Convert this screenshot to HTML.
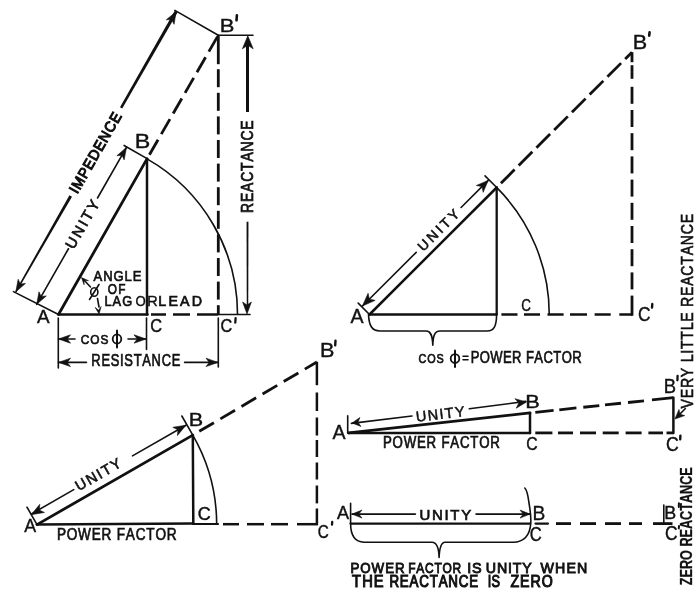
<!DOCTYPE html>
<html><head><meta charset="utf-8"><style>
html,body{margin:0;padding:0;background:#fff;}
svg{display:block;will-change:transform;filter:blur(0.35px);}
text{font-family:"Liberation Sans",sans-serif;fill:#111;stroke:#111;font-kerning:none;}
</style></head><body>
<svg width="700" height="597" viewBox="0 0 700 597" stroke="#111" fill="#111">
<line x1="58.5" y1="314.5" x2="147" y2="158.87" stroke-width="2.8" stroke-linecap="round"/>
<line x1="147" y1="158.87" x2="147" y2="314.5" stroke-width="2.5" stroke-linecap="round"/>
<line x1="58.5" y1="314.5" x2="147.5" y2="314.5" stroke-width="2.5" stroke-linecap="round"/>
<line x1="151" y1="314.5" x2="166" y2="314.5" stroke-width="2.5" stroke-linecap="butt"/>
<line x1="173" y1="314.5" x2="190" y2="314.5" stroke-width="2.5" stroke-linecap="butt"/>
<line x1="197" y1="314.5" x2="218.3" y2="314.5" stroke-width="2.5" stroke-linecap="butt"/>
<line x1="218.3" y1="314.5" x2="250" y2="314.5" stroke-width="1.6" stroke-linecap="round"/>
<line x1="149.4" y1="154.71" x2="158.04" y2="139.73" stroke-width="2.8" stroke-linecap="butt"/>
<line x1="161.28" y1="134.09" x2="169.93" y2="119.11" stroke-width="2.8" stroke-linecap="butt"/>
<line x1="173.17" y1="113.48" x2="181.81" y2="98.49" stroke-width="2.8" stroke-linecap="butt"/>
<line x1="185.06" y1="92.86" x2="193.7" y2="77.87" stroke-width="2.8" stroke-linecap="butt"/>
<line x1="196.95" y1="72.24" x2="205.59" y2="57.25" stroke-width="2.8" stroke-linecap="butt"/>
<line x1="208.83" y1="51.62" x2="217.47" y2="36.63" stroke-width="2.8" stroke-linecap="butt"/>
<line x1="218.3" y1="35.2" x2="218.3" y2="64.2" stroke-width="2.8" stroke-linecap="butt"/>
<line x1="218.3" y1="69.2" x2="218.3" y2="87.2" stroke-width="2.8" stroke-linecap="butt"/>
<line x1="218.3" y1="92.8" x2="218.3" y2="110.8" stroke-width="2.8" stroke-linecap="butt"/>
<line x1="218.3" y1="116.4" x2="218.3" y2="134.4" stroke-width="2.8" stroke-linecap="butt"/>
<line x1="218.3" y1="140" x2="218.3" y2="158" stroke-width="2.8" stroke-linecap="butt"/>
<line x1="218.3" y1="163.6" x2="218.3" y2="181.6" stroke-width="2.8" stroke-linecap="butt"/>
<line x1="218.3" y1="187.2" x2="218.3" y2="205.2" stroke-width="2.8" stroke-linecap="butt"/>
<line x1="218.3" y1="210.8" x2="218.3" y2="228.8" stroke-width="2.8" stroke-linecap="butt"/>
<line x1="218.3" y1="234.4" x2="218.3" y2="252.4" stroke-width="2.8" stroke-linecap="butt"/>
<line x1="218.3" y1="258" x2="218.3" y2="276" stroke-width="2.8" stroke-linecap="butt"/>
<line x1="218.3" y1="281.6" x2="218.3" y2="299.6" stroke-width="2.8" stroke-linecap="butt"/>
<line x1="218.3" y1="305.2" x2="218.3" y2="314.5" stroke-width="2.8" stroke-linecap="butt"/>
<path d="M147 158.87 A179.03 179.03 0 0 1 237.53 314.5" fill="none" stroke-width="1.6"/>
<line x1="58.5" y1="314.5" x2="13.43" y2="291.59" stroke-width="1.6" stroke-linecap="round"/>
<line x1="147.54" y1="158.87" x2="124.11" y2="145.46" stroke-width="1.6" stroke-linecap="round"/>
<line x1="218.3" y1="35.2" x2="174.9" y2="10.37" stroke-width="1.6" stroke-linecap="round"/>
<path d="M16.48 292.19 L72.01 196.65 L69.41 195.16 L15.18 291.44Z" stroke="none"/>
<path d="M122.24 108.45 L177.52 12.44 L174.74 10.85 L119.98 107.16Z" stroke="none"/>
<path d="M15.83 291.82 L25.44 283.49 L20.3 284 L18.15 279.31Z" stroke-width="0.6" stroke-linejoin="round"/>
<path d="M176.13 11.65 L166.26 19.83 L171.66 19.46 L174.08 24.3Z" stroke-width="0.6" stroke-linejoin="round"/>
<text transform="translate(99.96 155.04) rotate(-60.22) scale(0.95 1)" x="-47.88" y="0" font-size="14.83" font-weight="normal" stroke-width="1.1" textLength="95.03" lengthAdjust="spacing">IMPEDENCE</text>
<line x1="36.68" y1="304.32" x2="68.46" y2="248.77" stroke-width="1.6" stroke-linecap="round"/>
<line x1="97.51" y1="197.99" x2="126.46" y2="147.39" stroke-width="1.6" stroke-linecap="round"/>
<path d="M36.68 304.32 L46.28 295.99 L41.14 296.51 L38.99 291.82Z" stroke-width="0.6" stroke-linejoin="round"/>
<path d="M126.46 147.39 L116.86 155.72 L121.99 155.2 L124.15 159.89Z" stroke-width="0.6" stroke-linejoin="round"/>
<text transform="translate(87.04 226.56) rotate(-60.22) scale(1 1)" x="-27.14" y="0" font-size="14.83" font-weight="normal" stroke-width="0.7" textLength="53.47" lengthAdjust="spacing">UNITY</text>
<line x1="218.3" y1="35.2" x2="253" y2="35.3" stroke-width="1.6" stroke-linecap="round"/>
<path d="M246 40 L246 112 L249 112 L249 40Z" stroke="none"/>
<path d="M246.55 221.7 L246.75 305 L248.25 305 L248.45 221.7Z" stroke="none"/>
<path d="M247.8 35.8 L242.4 48.8 L247.8 45.3 L253.2 48.8Z" stroke-width="0.6" stroke-linejoin="round"/>
<path d="M247 314 L251.4 302 L247 305 L242.6 302Z" stroke-width="0.6" stroke-linejoin="round"/>
<text transform="translate(253 166.4) rotate(-90) scale(0.87 1)" x="-53.48" y="0" font-size="15.99" font-weight="normal" stroke-width="0.75" textLength="106.34" lengthAdjust="spacing">REACTANCE</text>
<line x1="58.3" y1="318" x2="58.3" y2="368" stroke-width="1.6" stroke-linecap="round"/>
<line x1="146.5" y1="318" x2="146.5" y2="349.5" stroke-width="1.6" stroke-linecap="round"/>
<line x1="218.3" y1="318" x2="218.3" y2="367" stroke-width="1.6" stroke-linecap="round"/>
<line x1="58.5" y1="339" x2="75" y2="339" stroke-width="1.6" stroke-linecap="round"/>
<line x1="128" y1="339" x2="146" y2="339" stroke-width="1.6" stroke-linecap="round"/>
<path d="M58.5 339 L70.5 343.2 L67.2 339 L70.5 334.8Z" stroke-width="0.6" stroke-linejoin="round"/>
<path d="M146 339 L134 334.8 L137.3 339 L134 343.2Z" stroke-width="0.6" stroke-linejoin="round"/>
<text transform="translate(80.8 343.6) scale(0.88 1)" x="0" y="0" font-size="13.52" font-weight="normal" stroke-width="0.7" textLength="31.53" lengthAdjust="spacing">COS</text>
<line x1="58.5" y1="362.4" x2="86.4" y2="362.4" stroke-width="1.6" stroke-linecap="round"/>
<line x1="184.6" y1="362.4" x2="218" y2="362.4" stroke-width="1.6" stroke-linecap="round"/>
<path d="M58.5 362.4 L70.5 366.6 L67.2 362.4 L70.5 358.2Z" stroke-width="0.6" stroke-linejoin="round"/>
<path d="M218 362.4 L206 358.2 L209.3 362.4 L206 366.6Z" stroke-width="0.6" stroke-linejoin="round"/>
<text transform="translate(91.34 366.4) scale(0.8 1)" x="0" y="0" font-size="16.13" font-weight="normal" stroke-width="0.7" textLength="111.18" lengthAdjust="spacing">RESISTANCE</text>
<ellipse cx="117" cy="339" rx="4.3" ry="4.6" fill="none" stroke-width="1.8"/>
<line x1="117" y1="330.5" x2="117" y2="347.5" stroke-width="2.0" stroke-linecap="round"/>
<ellipse cx="94.3" cy="292" rx="3.6" ry="4.3" fill="none" stroke-width="1.6"/>
<line x1="89.5" y1="299.5" x2="99" y2="284.5" stroke-width="1.6" stroke-linecap="round"/>
<line x1="90.5" y1="287" x2="83.5" y2="279.5" stroke-width="1.6" stroke-linecap="round"/>
<path d="M81.5 277.6 L84.08 284.77 L84.02 280.31 L88.47 280.67Z" stroke-width="0.6" stroke-linejoin="round"/>
<line x1="97.5" y1="298.5" x2="99" y2="307" stroke-width="1.6" stroke-linecap="round"/>
<path d="M99.1 313.9 L101.1 306.55 L98.59 310.24 L95.15 307.39Z" stroke-width="0.6" stroke-linejoin="round"/>
<text x="36.96" y="323" font-size="17.44" font-weight="normal" stroke-width="0.4" textLength="12.57" lengthAdjust="spacingAndGlyphs">A</text>
<text x="134.69" y="148" font-size="20.64" font-weight="normal" stroke-width="0.4" textLength="15.54" lengthAdjust="spacingAndGlyphs">B</text>
<text x="219.8" y="32.2" font-size="19.19" font-weight="normal" stroke-width="0.4" textLength="14.66" lengthAdjust="spacingAndGlyphs">B</text>
<line x1="236.9" y1="15.2" x2="236.5" y2="20.3" stroke-width="2.6" stroke-linecap="round"/>
<text x="150.17" y="332.2" font-size="18.46" font-weight="normal" stroke-width="0.4" textLength="11.86" lengthAdjust="spacingAndGlyphs">C</text>
<text x="220.47" y="332.3" font-size="18.46" font-weight="normal" stroke-width="0.4" textLength="11.75" lengthAdjust="spacingAndGlyphs">C</text>
<line x1="235.6" y1="318.2" x2="235.3" y2="322.5" stroke-width="2.3" stroke-linecap="round"/>
<text transform="translate(93.57 280.8) scale(0.85 1)" x="0" y="0" font-size="15.41" font-weight="normal" stroke-width="0.7" textLength="56.35" lengthAdjust="spacing">ANGLE</text>
<text transform="translate(107.84 294) scale(0.8 1)" x="0" y="0" font-size="14.83" font-weight="normal" stroke-width="0.7" textLength="22.13" lengthAdjust="spacing">OF</text>
<text transform="translate(104.55 306) scale(0.9 1)" x="0" y="0" font-size="14.24" font-weight="normal" stroke-width="0.7" textLength="30.6" lengthAdjust="spacing">LAG</text>
<text x="135.38" y="306" font-size="14.24" font-weight="normal" stroke-width="0.4" textLength="10.26" lengthAdjust="spacingAndGlyphs">O</text>
<text x="147.21" y="306" font-size="14.24" font-weight="normal" stroke-width="0.4" textLength="10.46" lengthAdjust="spacingAndGlyphs">R</text>
<text transform="translate(158.33 306) scale(1 1)" x="0" y="0" font-size="14.24" font-weight="normal" stroke-width="0.7" textLength="43.65" lengthAdjust="spacing">LEAD</text>
<line x1="369.5" y1="314.5" x2="496.7" y2="187.5" stroke-width="2.5" stroke-linecap="round"/>
<line x1="496.7" y1="187.5" x2="496.7" y2="314.5" stroke-width="2.3" stroke-linecap="round"/>
<line x1="369.5" y1="314.5" x2="496.7" y2="314.5" stroke-width="2.3" stroke-linecap="round"/>
<line x1="500.94" y1="183.26" x2="514.59" y2="169.61" stroke-width="2.8" stroke-linecap="butt"/>
<line x1="518.69" y1="165.51" x2="532.34" y2="151.86" stroke-width="2.8" stroke-linecap="butt"/>
<line x1="536.44" y1="147.76" x2="550.09" y2="134.11" stroke-width="2.8" stroke-linecap="butt"/>
<line x1="554.19" y1="130.01" x2="567.83" y2="116.37" stroke-width="2.8" stroke-linecap="butt"/>
<line x1="571.94" y1="112.26" x2="585.58" y2="98.62" stroke-width="2.8" stroke-linecap="butt"/>
<line x1="589.68" y1="94.52" x2="603.33" y2="80.87" stroke-width="2.8" stroke-linecap="butt"/>
<line x1="607.43" y1="76.77" x2="621.08" y2="63.12" stroke-width="2.8" stroke-linecap="butt"/>
<line x1="625.18" y1="59.02" x2="632" y2="52.2" stroke-width="2.8" stroke-linecap="butt"/>
<line x1="632" y1="52.2" x2="632" y2="62.2" stroke-width="2.8" stroke-linecap="butt"/>
<line x1="632" y1="65.2" x2="632" y2="78.8" stroke-width="2.8" stroke-linecap="butt"/>
<line x1="632" y1="86.8" x2="632" y2="103.8" stroke-width="2.8" stroke-linecap="butt"/>
<line x1="632" y1="110" x2="632" y2="127" stroke-width="2.8" stroke-linecap="butt"/>
<line x1="632" y1="133.2" x2="632" y2="150.2" stroke-width="2.8" stroke-linecap="butt"/>
<line x1="632" y1="156.4" x2="632" y2="173.4" stroke-width="2.8" stroke-linecap="butt"/>
<line x1="632" y1="179.6" x2="632" y2="196.6" stroke-width="2.8" stroke-linecap="butt"/>
<line x1="632" y1="202.8" x2="632" y2="219.8" stroke-width="2.8" stroke-linecap="butt"/>
<line x1="632" y1="226" x2="632" y2="243" stroke-width="2.8" stroke-linecap="butt"/>
<line x1="632" y1="249.2" x2="632" y2="266.2" stroke-width="2.8" stroke-linecap="butt"/>
<line x1="632" y1="272.4" x2="632" y2="289.4" stroke-width="2.8" stroke-linecap="butt"/>
<line x1="632" y1="295.6" x2="632" y2="315.8" stroke-width="2.8" stroke-linecap="butt"/>
<line x1="501.4" y1="314.5" x2="517.5" y2="314.5" stroke-width="2.5" stroke-linecap="butt"/>
<line x1="524" y1="314.5" x2="540" y2="314.5" stroke-width="2.5" stroke-linecap="butt"/>
<line x1="547.5" y1="314.5" x2="563.6" y2="314.5" stroke-width="2.5" stroke-linecap="butt"/>
<line x1="570" y1="314.5" x2="587" y2="314.5" stroke-width="2.5" stroke-linecap="butt"/>
<line x1="594.6" y1="314.5" x2="610.7" y2="314.5" stroke-width="2.5" stroke-linecap="butt"/>
<line x1="619.3" y1="314.5" x2="632" y2="314.5" stroke-width="2.5" stroke-linecap="butt"/>
<path d="M496.6 187.4 A179.75 179.75 0 0 1 549.25 314.5" fill="none" stroke-width="1.6"/>
<line x1="369.5" y1="314.5" x2="358.2" y2="303.18" stroke-width="1.6" stroke-linecap="round"/>
<line x1="496.7" y1="187.5" x2="485.04" y2="175.82" stroke-width="1.6" stroke-linecap="round"/>
<line x1="362.44" y1="306.01" x2="416.22" y2="252.31" stroke-width="1.6" stroke-linecap="round"/>
<line x1="461.08" y1="207.52" x2="488.22" y2="180.42" stroke-width="1.6" stroke-linecap="round"/>
<path d="M362.44 306.01 L375.17 300.36 L369.3 299.16 L368.1 293.29Z" stroke-width="0.6" stroke-linejoin="round"/>
<path d="M488.22 180.42 L476.34 185.5 L482.06 186.57 L483.12 192.3Z" stroke-width="0.6" stroke-linejoin="round"/>
<text transform="translate(442.01 233.28) rotate(-44.95) scale(1 1)" x="-26.57" y="0" font-size="13.81" font-weight="normal" stroke-width="0.6" textLength="52.37" lengthAdjust="spacing">UNITY</text>
<path d="M368.5 314.4 C369 326 372 331 380 331 L426 331 C431 331 432.5 336 432.8 345.3 C433.1 336 434.5 331 440 331 L487 331 C494 331 496.5 326 496.6 314.4" fill="none" stroke-width="1.6" stroke-linecap="round" stroke-linejoin="round"/>
<text x="350.46" y="322.5" font-size="20.35" font-weight="normal" stroke-width="0.4" textLength="13.08" lengthAdjust="spacingAndGlyphs">A</text>
<text x="521.32" y="310.5" font-size="15.99" font-weight="normal" stroke-width="0.4" textLength="9.69" lengthAdjust="spacingAndGlyphs">C</text>
<text x="632.73" y="48.5" font-size="19.62" font-weight="normal" stroke-width="0.4" textLength="14.41" lengthAdjust="spacingAndGlyphs">B</text>
<line x1="649.6" y1="32.2" x2="649.2" y2="35.6" stroke-width="2.6" stroke-linecap="round"/>
<text x="637.92" y="321" font-size="21.08" font-weight="normal" stroke-width="0.4" textLength="12.54" lengthAdjust="spacingAndGlyphs">C</text>
<line x1="652.3" y1="304" x2="652" y2="307.6" stroke-width="2.4" stroke-linecap="round"/>
<text transform="translate(418.45 363.1) scale(0.83 1)" x="0" y="0" font-size="13.08" font-weight="normal" stroke-width="0.7" textLength="30.51" lengthAdjust="spacing">COS</text>
<ellipse cx="455" cy="358.6" rx="4.3" ry="4.4" fill="none" stroke-width="1.8"/>
<line x1="455" y1="350.5" x2="455" y2="367" stroke-width="2.0" stroke-linecap="round"/>
<text transform="translate(470.63 363.1) scale(0.78 1)" x="0" y="0" font-size="16.72" font-weight="normal" stroke-width="0.7" textLength="142.27" lengthAdjust="spacing">POWER FACTOR</text>
<line x1="463" y1="356.2" x2="468" y2="356.2" stroke-width="1.5" stroke-linecap="round"/>
<line x1="463" y1="359.8" x2="468" y2="359.8" stroke-width="1.5" stroke-linecap="round"/>
<line x1="37" y1="524.6" x2="192.8" y2="435.1" stroke-width="2.8" stroke-linecap="round"/>
<line x1="192.8" y1="435.1" x2="193.3" y2="523.5" stroke-width="2.5" stroke-linecap="round"/>
<line x1="37" y1="524.6" x2="193.3" y2="523.5" stroke-width="2.5" stroke-linecap="round"/>
<line x1="199.26" y1="431.29" x2="213.91" y2="422.67" stroke-width="2.8" stroke-linecap="butt"/>
<line x1="220.37" y1="418.86" x2="235.02" y2="410.23" stroke-width="2.8" stroke-linecap="butt"/>
<line x1="241.48" y1="406.42" x2="256.13" y2="397.8" stroke-width="2.8" stroke-linecap="butt"/>
<line x1="262.59" y1="393.99" x2="277.24" y2="385.36" stroke-width="2.8" stroke-linecap="butt"/>
<line x1="283.7" y1="381.55" x2="298.35" y2="372.93" stroke-width="2.8" stroke-linecap="butt"/>
<line x1="304.81" y1="369.12" x2="316.9" y2="362" stroke-width="2.8" stroke-linecap="butt"/>
<line x1="316.9" y1="361.8" x2="316.9" y2="385.2" stroke-width="2.5" stroke-linecap="butt"/>
<line x1="316.9" y1="392.5" x2="316.9" y2="411" stroke-width="2.5" stroke-linecap="butt"/>
<line x1="316.9" y1="417.5" x2="316.9" y2="435.5" stroke-width="2.5" stroke-linecap="butt"/>
<line x1="316.9" y1="440" x2="316.9" y2="457" stroke-width="2.5" stroke-linecap="butt"/>
<line x1="316.9" y1="462.5" x2="316.9" y2="479.5" stroke-width="2.5" stroke-linecap="butt"/>
<line x1="316.9" y1="485.5" x2="316.9" y2="503.4" stroke-width="2.5" stroke-linecap="butt"/>
<line x1="316.9" y1="508.5" x2="316.9" y2="524.8" stroke-width="2.5" stroke-linecap="butt"/>
<line x1="193.3" y1="524" x2="218" y2="524" stroke-width="2.2" stroke-linecap="round"/>
<line x1="223" y1="524.2" x2="239" y2="524.2" stroke-width="2.5" stroke-linecap="butt"/>
<line x1="247" y1="524.2" x2="264" y2="524.2" stroke-width="2.5" stroke-linecap="butt"/>
<line x1="271" y1="524.2" x2="288" y2="524.2" stroke-width="2.5" stroke-linecap="butt"/>
<line x1="297" y1="524.2" x2="318" y2="524.2" stroke-width="2.5" stroke-linecap="butt"/>
<path d="M192.8 435.1 A179.68 179.68 0 0 1 216.68 524.6" fill="none" stroke-width="1.6"/>
<line x1="37" y1="524.6" x2="27.04" y2="507.26" stroke-width="1.6" stroke-linecap="round"/>
<line x1="192.8" y1="435.1" x2="181.84" y2="416.02" stroke-width="1.6" stroke-linecap="round"/>
<line x1="31.89" y1="513.7" x2="73.77" y2="489.64" stroke-width="1.6" stroke-linecap="round"/>
<line x1="132.47" y1="455.92" x2="185.96" y2="425.19" stroke-width="1.6" stroke-linecap="round"/>
<path d="M31.27 514.63 L44.45 512.48 L39.25 510.05 L39.77 504.33Z" stroke-width="0.6" stroke-linejoin="round"/>
<path d="M185.96 425.19 L172.78 427.34 L177.98 429.78 L177.46 435.49Z" stroke-width="0.6" stroke-linejoin="round"/>
<text transform="translate(101 478.61) rotate(-29.88) scale(1 1)" x="-25.62" y="0" font-size="14.53" font-weight="normal" stroke-width="0.6" textLength="50.44" lengthAdjust="spacing">UNITY</text>
<text x="24.17" y="532" font-size="18.9" font-weight="normal" stroke-width="0.4" textLength="11.87" lengthAdjust="spacingAndGlyphs">A</text>
<text x="188.73" y="425.7" font-size="17.44" font-weight="normal" stroke-width="0.4" textLength="14.41" lengthAdjust="spacingAndGlyphs">B</text>
<text x="320.03" y="357.3" font-size="20.06" font-weight="normal" stroke-width="0.4" textLength="14.41" lengthAdjust="spacingAndGlyphs">B</text>
<line x1="335.5" y1="340.6" x2="335.2" y2="345.3" stroke-width="2.4" stroke-linecap="round"/>
<text x="197.69" y="520.4" font-size="17.44" font-weight="normal" stroke-width="0.4" textLength="13" lengthAdjust="spacingAndGlyphs">C</text>
<text x="317.72" y="537.6" font-size="18.02" font-weight="normal" stroke-width="0.4" textLength="11.06" lengthAdjust="spacingAndGlyphs">C</text>
<line x1="332.2" y1="521.8" x2="332" y2="524.6" stroke-width="2.3" stroke-linecap="round"/>
<text transform="translate(56.88 540) scale(0.85 1)" x="0" y="0" font-size="15.99" font-weight="normal" stroke-width="0.7" textLength="140.85" lengthAdjust="spacing">POWER FACTOR</text>
<line x1="348.6" y1="432.9" x2="530" y2="412.9" stroke-width="2.8" stroke-linecap="round"/>
<line x1="530" y1="412.9" x2="530" y2="432.9" stroke-width="2.5" stroke-linecap="round"/>
<line x1="348.6" y1="432.9" x2="530" y2="432.9" stroke-width="2.5" stroke-linecap="round"/>
<line x1="535.3" y1="412.34" x2="553.6" y2="410.4" stroke-width="2.8" stroke-linecap="butt"/>
<line x1="559.3" y1="409.79" x2="576.4" y2="407.98" stroke-width="2.8" stroke-linecap="butt"/>
<line x1="583.3" y1="407.25" x2="599.3" y2="405.55" stroke-width="2.8" stroke-linecap="butt"/>
<line x1="605" y1="404.95" x2="621" y2="403.25" stroke-width="2.8" stroke-linecap="butt"/>
<line x1="628" y1="402.51" x2="644" y2="400.82" stroke-width="2.8" stroke-linecap="butt"/>
<line x1="652" y1="399.97" x2="673.4" y2="397.7" stroke-width="2.8" stroke-linecap="butt"/>
<line x1="535.3" y1="432.9" x2="552.4" y2="432.9" stroke-width="2.8" stroke-linecap="butt"/>
<line x1="558" y1="432.9" x2="573" y2="432.9" stroke-width="2.8" stroke-linecap="butt"/>
<line x1="580" y1="432.9" x2="596" y2="432.9" stroke-width="2.8" stroke-linecap="butt"/>
<line x1="602.7" y1="432.9" x2="618.7" y2="432.9" stroke-width="2.8" stroke-linecap="butt"/>
<line x1="625.6" y1="432.9" x2="641.6" y2="432.9" stroke-width="2.8" stroke-linecap="butt"/>
<line x1="648.4" y1="432.9" x2="663" y2="432.9" stroke-width="2.8" stroke-linecap="butt"/>
<line x1="666.5" y1="432.9" x2="673.4" y2="432.9" stroke-width="2.8" stroke-linecap="butt"/>
<line x1="673.4" y1="397.7" x2="673.4" y2="432.9" stroke-width="2.5" stroke-linecap="round"/>
<line x1="347.7" y1="415.7" x2="347.7" y2="433" stroke-width="1.6" stroke-linecap="round"/>
<line x1="351.4" y1="423.4" x2="412" y2="416" stroke-width="1.6" stroke-linecap="round"/>
<line x1="469.3" y1="408.8" x2="525.7" y2="401.4" stroke-width="1.6" stroke-linecap="round"/>
<path d="M352 423 L360.97 426.46 L357.96 422.29 L359.91 417.53Z" stroke-width="0.6" stroke-linejoin="round"/>
<path d="M526.5 402 L514.97 398.68 L518.87 403.01 L516.22 408.19Z" stroke-width="0.6" stroke-linejoin="round"/>
<text transform="translate(441.17 418.97) rotate(-6.5) scale(1 1)" x="-24.87" y="0" font-size="14.53" font-weight="normal" stroke-width="0.5" textLength="48.94" lengthAdjust="spacing">UNITY</text>
<line x1="685.4" y1="408.5" x2="677.5" y2="416.5" stroke-width="1.6" stroke-linecap="round"/>
<path d="M674.9 419 L684.71 415.59 L680.02 414.23 L678.98 409.45Z" stroke-width="0.6" stroke-linejoin="round"/>
<text x="332.46" y="438.5" font-size="21.08" font-weight="normal" stroke-width="0.4" textLength="13.08" lengthAdjust="spacingAndGlyphs">A</text>
<text x="525.21" y="408" font-size="18.9" font-weight="normal" stroke-width="0.4" textLength="14.54" lengthAdjust="spacingAndGlyphs">B</text>
<text x="526.2" y="449.5" font-size="17.44" font-weight="normal" stroke-width="0.4" textLength="11.4" lengthAdjust="spacingAndGlyphs">C</text>
<text x="663.69" y="392.5" font-size="19.91" font-weight="normal" stroke-width="0.4" textLength="12.28" lengthAdjust="spacingAndGlyphs">B</text>
<line x1="677.6" y1="375.8" x2="677.4" y2="380.3" stroke-width="2.3" stroke-linecap="round"/>
<text x="665.9" y="450.8" font-size="19.77" font-weight="normal" stroke-width="0.4" textLength="12.77" lengthAdjust="spacingAndGlyphs">C</text>
<line x1="680.4" y1="435.6" x2="680.2" y2="439.4" stroke-width="2.4" stroke-linecap="round"/>
<text transform="translate(382.92 448) scale(0.83 1)" x="0" y="0" font-size="15.99" font-weight="normal" stroke-width="0.7" textLength="140.85" lengthAdjust="spacing">POWER FACTOR</text>
<line x1="350.6" y1="503.4" x2="350.6" y2="523.6" stroke-width="1.6" stroke-linecap="round"/>
<line x1="350.6" y1="523.6" x2="530" y2="523.6" stroke-width="2.3" stroke-linecap="round"/>
<line x1="535.5" y1="523.6" x2="548" y2="523.6" stroke-width="2.2" stroke-linecap="round"/>
<line x1="556" y1="523.6" x2="571" y2="523.6" stroke-width="2.8" stroke-linecap="butt"/>
<line x1="580" y1="523.6" x2="596" y2="523.6" stroke-width="2.8" stroke-linecap="butt"/>
<line x1="605" y1="523.6" x2="621" y2="523.6" stroke-width="2.8" stroke-linecap="butt"/>
<line x1="629" y1="523.6" x2="642" y2="523.6" stroke-width="2.8" stroke-linecap="butt"/>
<line x1="653" y1="523.6" x2="672.5" y2="523.6" stroke-width="2.8" stroke-linecap="butt"/>
<line x1="352" y1="514.1" x2="415.4" y2="514.1" stroke-width="1.6" stroke-linecap="round"/>
<line x1="476" y1="514.1" x2="530" y2="514.1" stroke-width="1.6" stroke-linecap="round"/>
<path d="M352 514.1 L362 518.1 L358.7 514.1 L362 510.1Z" stroke-width="0.6" stroke-linejoin="round"/>
<path d="M530 514.1 L520 510.1 L523.3 514.1 L520 518.1Z" stroke-width="0.6" stroke-linejoin="round"/>
<text transform="translate(419.45 519.7) scale(1 1)" x="0" y="0" font-size="14.97" font-weight="normal" stroke-width="0.7" textLength="51.68" lengthAdjust="spacing">UNITY</text>
<path d="M524.8 488 C527 490 528 495 529 503 C530.5 512 531 520 530.8 523 C530 535 524 542 513 542.3 L445 542.3 C441 542.5 439.5 548 439.1 557.4 C438.8 548 437 542.3 432 542.3 L364 542.3 C355 542 350.6 536 350.6 523.6" fill="none" stroke-width="1.6" stroke-linecap="round" stroke-linejoin="round"/>
<text x="336.96" y="519.4" font-size="17.44" font-weight="normal" stroke-width="0.4" textLength="12.07" lengthAdjust="spacingAndGlyphs">A</text>
<text x="532.43" y="519.5" font-size="20.49" font-weight="normal" stroke-width="0.4" textLength="12.78" lengthAdjust="spacingAndGlyphs">B</text>
<text x="529.66" y="541" font-size="19.62" font-weight="normal" stroke-width="0.4" textLength="11.97" lengthAdjust="spacingAndGlyphs">C</text>
<text x="664.24" y="518.5" font-size="17.73" font-weight="normal" stroke-width="0.4" textLength="11.91" lengthAdjust="spacingAndGlyphs">B</text>
<line x1="678.9" y1="503.2" x2="678.8" y2="507" stroke-width="2.0" stroke-linecap="round"/>
<text x="665.12" y="540.3" font-size="19.77" font-weight="normal" stroke-width="0.4" textLength="12.54" lengthAdjust="spacingAndGlyphs">C</text>
<line x1="679" y1="526" x2="678.8" y2="528.4" stroke-width="2.0" stroke-linecap="round"/>
<text transform="translate(350.41 572.8) scale(0.89 1)" x="0" y="0" font-size="14.97" font-weight="normal" stroke-width="0.9" textLength="60.93" lengthAdjust="spacing">POWER</text>
<text transform="translate(408.21 572.8) scale(0.8 1)" x="0" y="0" font-size="14.97" font-weight="normal" stroke-width="0.9" textLength="66.31" lengthAdjust="spacing">FACTOR</text>
<text transform="translate(467.18 572.8) scale(0.96 1)" x="0" y="0" font-size="14.97" font-weight="normal" stroke-width="0.9" textLength="15.11" lengthAdjust="spacing">IS</text>
<text transform="translate(485.8 572.8) scale(0.95 1)" x="0" y="0" font-size="14.97" font-weight="normal" stroke-width="0.9" textLength="48.39" lengthAdjust="spacing">UNITY</text>
<text transform="translate(540.54 572.8) scale(0.95 1)" x="0" y="0" font-size="14.97" font-weight="normal" stroke-width="0.9" textLength="49.3" lengthAdjust="spacing">WHEN</text>
<text transform="translate(352.07 587) scale(0.9 1)" x="0" y="0" font-size="16.28" font-weight="normal" stroke-width="1.1" textLength="35.08" lengthAdjust="spacing">THE</text>
<text transform="translate(389.4 587) scale(0.82 1)" x="0" y="0" font-size="16.28" font-weight="normal" stroke-width="1.1" textLength="108.27" lengthAdjust="spacing">REACTANCE</text>
<text transform="translate(487.83 587) scale(0.78 1)" x="0" y="0" font-size="16.28" font-weight="normal" stroke-width="1.1" textLength="15.58" lengthAdjust="spacing">IS</text>
<text transform="translate(510.45 587) scale(0.87 1)" x="0" y="0" font-size="16.28" font-weight="normal" stroke-width="1.1" textLength="48.73" lengthAdjust="spacing">ZERO</text>
<text transform="translate(693 311.4) rotate(-90) scale(0.84 1)" x="-115.5" y="0" font-size="16.86" font-weight="normal" stroke-width="0.6" textLength="231.65" lengthAdjust="spacing">VERY LITTLE REACTANCE</text>
<text transform="translate(692 526.3) rotate(-90)" x="-58.88" y="0" font-size="16.28" font-weight="bold" stroke-width="0.3" textLength="117.87" lengthAdjust="spacingAndGlyphs">ZERO REACTANCE</text>
<line x1="663.8" y1="505" x2="663.8" y2="523.5" stroke-width="1.6" stroke-linecap="round"/>
</svg>
</body></html>
